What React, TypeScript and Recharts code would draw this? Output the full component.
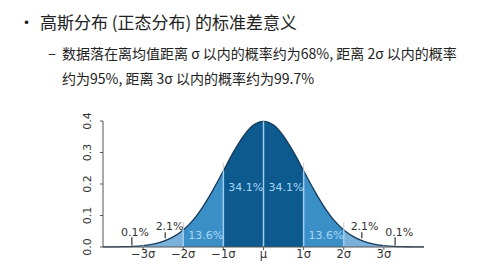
import { Area, ComposedChart, Line, ReferenceDot, ReferenceLine, XAxis, YAxis } from 'recharts'

// x in units of sigma, density
const xs = [
  -4, -3.75, -3.5, -3.25, -3, -2.75, -2.5, -2.25, -2, -1.75, -1.5, -1.25, -1, -0.75, -0.5, -0.25, 0,
  0.25, 0.5, 0.75, 1, 1.25, 1.5, 1.75, 2, 2.25, 2.5, 2.75, 3, 3.25, 3.5, 3.75, 4,
]
const density = [
  0.0001, 0.0004, 0.0009, 0.002, 0.0044, 0.009, 0.018, 0.032, 0.054, 0.086, 0.13, 0.183, 0.242, 0.301,
  0.352, 0.387, 0.399, 0.387, 0.352, 0.301, 0.242, 0.183, 0.13, 0.086, 0.054, 0.032, 0.018, 0.009,
  0.0044, 0.002, 0.0009, 0.0004, 0.0001,
]

const xTicks = [-3, -2, -1, 0, 1, 2, 3]
const xTickLabels = ['−3σ', '−2σ', '−1σ', 'μ', '1σ', '2σ', '3σ']
const yTicks = [0, 0.1, 0.2, 0.3, 0.4]

const bandLabels = [
  { x: -0.44, y: 0.19, text: '34.1%', dark: false },
  { x: 0.56, y: 0.19, text: '34.1%', dark: false },
  { x: -1.44, y: 0.037, text: '13.6%', dark: false },
  { x: 1.56, y: 0.037, text: '13.6%', dark: false },
  { x: -2.34, y: 0.066, text: '2.1%', dark: true },
  { x: 2.52, y: 0.066, text: '2.1%', dark: true },
  { x: -3.2, y: 0.047, text: '0.1%', dark: true },
  { x: 3.38, y: 0.047, text: '0.1%', dark: true },
]
// little pointer marks under the outer labels: [x, y from, y to]
const pointers = [
  [-2.45, 0.028, 0.047],
  [2.45, 0.028, 0.047],
  [-3.28, 0.005, 0.031],
  [3.28, 0.005, 0.031],
]

const inBand = (x: number, lo: number, hi: number) => Math.abs(x) >= lo && Math.abs(x) <= hi

const data = xs.map((x, i) => ({
  x,
  y: density[i],
  b1: inBand(x, 0, 1) ? density[i] : null,
  b2: inBand(x, 1, 2) ? density[i] : null,
  b3: inBand(x, 2, 3) ? density[i] : null,
  b4: inBand(x, 3, 4) ? density[i] : null,
}))

const font = '"DejaVu Sans", sans-serif'

function YTick({ x, y, payload }: any) {
  return (
    <g transform={`translate(${x - 11}, ${y}) rotate(-90)`}>
      <text textAnchor="middle" dy="0.35em" fontSize={11} fill="#333" fontFamily={font}>
        {Number(payload.value).toFixed(1)}
      </text>
    </g>
  )
}

export default function App() {
  return (
    <div
      style={{
        position: 'absolute',
        left: 0,
        top: 0,
        width: 499,
        height: 271,
        background: '#fff',
        fontFamily: '"Noto Sans CJK SC", sans-serif',
        color: '#222',
      }}
    >
      <div style={{ position: 'absolute', left: 18, top: 10, fontSize: 17, lineHeight: '24px' }}>•</div>
      <div style={{ position: 'absolute', left: 40, top: 10, fontSize: 17, lineHeight: '24px', whiteSpace: 'nowrap' }}>
        高斯分布 (正态分布) 的标准差意义
      </div>
      <div style={{ position: 'absolute', left: 48, top: 41, fontSize: 15, lineHeight: '24px' }}>–</div>
      <div
        style={{ position: 'absolute', left: 62, top: 41, fontSize: 14, lineHeight: '25px', whiteSpace: 'nowrap' }}
      >
        数据落在离均值距离 σ 以内的概率约为68%, 距离 2σ 以内的概率
        <br />
        约为95%, 距离 3σ 以内的概率约为99.7%
      </div>

      <div style={{ position: 'absolute', left: 0, top: 100 }}>
        <ComposedChart width={499} height={171} data={data} margin={{ top: 21, right: 75, left: 0, bottom: 0 }}>
          <XAxis
            dataKey="x"
            type="number"
            domain={[-4, 4]}
            ticks={xTicks}
            tickFormatter={(v) => xTickLabels[xTicks.indexOf(v)]}
            height={24}
            tickSize={3}
            tickMargin={0}
            stroke="#555"
            tick={{ fontSize: 11.5, fill: '#333', fontFamily: font }}
          />
          <YAxis
            type="number"
            domain={[0, 0.4]}
            ticks={yTicks}
            width={103}
            tickSize={3}
            stroke="#555"
            tick={<YTick />}
          />
          <Area dataKey="b4" type="monotone" stroke="none" fill="#b5d3ec" fillOpacity={1} isAnimationActive={false} />
          <Area dataKey="b3" type="monotone" stroke="none" fill="#7ab1da" fillOpacity={1} isAnimationActive={false} />
          <Area dataKey="b2" type="monotone" stroke="none" fill="#3a8fc6" fillOpacity={1} isAnimationActive={false} />
          <Area dataKey="b1" type="monotone" stroke="none" fill="#0d5a8e" fillOpacity={1} isAnimationActive={false} />
          <Line dataKey="y" type="monotone" stroke="#163a58" strokeWidth={1.3} dot={false} isAnimationActive={false} />
          {xTicks.map((t) => {
            const top = density[xs.indexOf(t)]
            return (
              <ReferenceLine
                key={'s' + t}
                segment={[
                  { x: t, y: 0 },
                  { x: t, y: top },
                ]}
                stroke="#9fcdf2"
                strokeWidth={1.5}
              />
            )
          })}
          {[-2, -1, 1, 2].map((t) => {
            const top = density[xs.indexOf(t)]
            return (
              <ReferenceLine
                key={'g' + t}
                segment={[
                  { x: t, y: top },
                  { x: t, y: top + 0.025 },
                ]}
                stroke="#ccc"
                strokeWidth={1}
              />
            )
          })}
          {pointers.map(([px, y0, y1]) => (
            <ReferenceLine
              key={'p' + px}
              segment={[
                { x: px, y: y0 },
                { x: px, y: y1 },
              ]}
              stroke="#333"
              strokeWidth={1.2}
            />
          ))}
          {bandLabels.map((l, i) => (
            <ReferenceDot
              key={'l' + i}
              x={l.x}
              y={l.y}
              r={0}
              shape={(p: any) => (
                <text
                  x={p.cx}
                  y={p.cy}
                  textAnchor="middle"
                  dy="0.35em"
                  fontSize={11}
                  fontFamily={font}
                  fill={l.dark ? '#333' : '#a9d5f7'}
                >
                  {l.text}
                </text>
              )}
            />
          ))}
        </ComposedChart>
      </div>
    </div>
  )
}
